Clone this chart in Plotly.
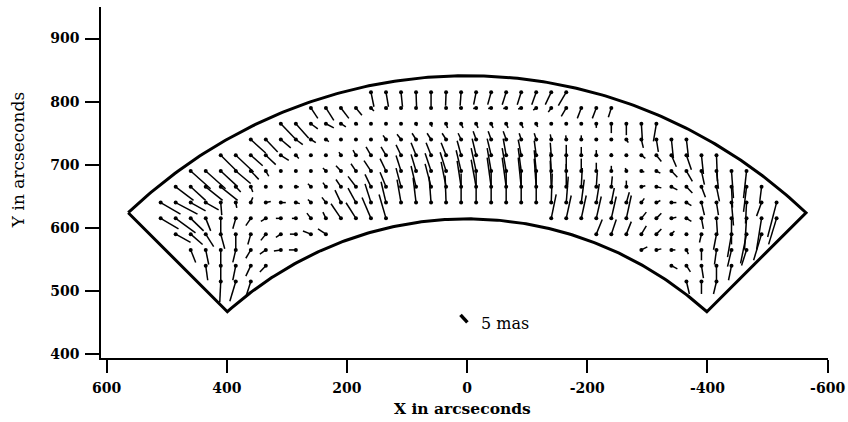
import numpy as np
import plotly.graph_objects as go

# distortion vectors on a 25" grid; u, v in mas (u along +X, v along +Y)
X_815 = [160, 135, 110, 85, 60, 35, 10, -15, -40, -65, -90, -115, -140, -165]
U_815 = [-1.5, -1.25, -0.75, -0.25, 0, 0.25, 0.5, 1.25, 1.75, 2, 2, 2.25, 3, 4]
V_815 = [-7, -7, -7, -7, -7, -6.5, -6.5, -6, -6, -6, -6, -6, -6, -6.5]

X_790 = [260, 235, 210, 185, 160, 135, 110, 85, 60, 35, 10, -15, -40, -65, -90, -115, -140, -165, -190, -215, -240]
U_790 = [-3.5, -4, -4, -3, -1.5, -0.75, -0.5, -0.25, 0, 0.25, 1, 1.5, 1.5, 1.5, 1.5, 1.5, 1.5, 2.5, 2, 2, 1.5]
V_790 = [-5, -6, -5, -3.5, -1.5, -0.75, -0.5, -0.25, -0.25, -0.25, 0, -0.25, -0.25, -0.25, -0.5, -1, -2, -4, -5, -5, -4.5]

X_765 = [310, 285, 260, 235, 210, 185, 160, 135, 110, 85, 60, 35, 10, -15, -40, -65, -90, -115, -140, -165, -190, -215, -240, -265, -290, -315]
U_765 = [-7, -6.5, -3.5, -4, -2.5, -1, -0.25, -0.25, -0.25, -0.5, -0.5, -0.75, -1, -1, -1, -1, -1, -0.75, -0.25, 0, 0, 0, 0, 0, -0.5, 1.5]
V_765 = [-7, -7, -2.5, -2, -1.5, -0.5, -0.25, -0.25, -0.25, -1, -1.5, -2, -2, -2, -2, -2, -2, -1.5, -0.5, -0.5, -0.5, -2, -4.5, -5.5, -8, -8.5]

X_740 = [360, 335, 310, 285, 260, 235, 210, 185, 160, 135, 110, 85, 60, 35, 10, -15, -40, -65, -90, -115, -140, -165, -190, -215, -240, -265, -290, -315, -340, -365]
U_740 = [-7.5, -6, -5, -3.5, -2.5, -1.5, -0.5, -0.25, 0, 1.5, 2, 2, 2, 2, 1.5, 1.5, 1.5, 1.5, 1, 1, 0.5, 0.25, 0, 0, 0, -1, -1, -1, -1, -1]
V_740 = [-6.5, -6, -4, -2.5, -1.5, -1, -0.5, -0.25, 0, 2, 2.5, 3, 3, 3, 3, 4, 4, 4, 3, 3, 2.5, 2, 2, -0.25, -0.25, -1.5, -4, -6, -9, -8.5]

X_715 = [410, 385, 360, 335, 310, 285, 260, 235, 210, 185, 160, 135, 110, 85, 60, 35, 10,
         -15, -40, -65, -90, -115, -140, -165, -190, -215, -240, -265, -290, -315, -340, -365, -390, -415]
U_715 = [-8.5, -9, -6, -5, -4, -1.5, 0, 0.5, 1, 1.5, 2.5, 2.5, 2.5, 2.5, 2.5, 2.5, 2,
         2, 2, 1.5, 1.5, 1, 0.5, 0, 0, 0, 0, 0, -2, -2.5, -2.5, -2.5, -1, -0.5]
V_715 = [-8, -8, -5, -4.5, -2.5, -1.5, 0, 0.5, 1.5, 2.5, 4, 4, 5, 6, 6, 6, 7,
         8, 8, 8, 7.5, 7, 6, 5, 4, 2.5, 1, 0, -1.5, -3, -5.5, -7, -9, -12.5]

X_690 = [460, 435, 410, 385, 360, 335, 310, 285, 260, 235, 210, 185, 160, 135, 110, 85, 60, 35, 10,
         -15, -40, -65, -90, -115, -140, -165, -190, -215, -240, -265, -290, -315, -340, -365, -390, -415, -440, -465]
U_690 = [-10, -10, -8.5, -7.5, -4, -1.5, 0, 0, 0, 1.5, 2.5, 2.5, 3.5, 3, 2.5, 2.5, 3, 3, 2.5,
         2.5, 2, 2, 1.5, 1, 0.5, 0, 0, 0, 0, 0.5, -1.5, -2, -3, -3, -1.5, -1, -1, 1.5]
V_690 = [-8.5, -8.5, -7.5, -6, -4, -2.5, 0, 0, 0, 1.5, 2.5, 3.5, 5, 6, 7.5, 8, 8.5, 9, 10,
         11, 11, 11, 11, 10, 9, 7.5, 6, 4, 2.5, 1.5, -0.5, -1, -3, -5, -6.5, -8.5, -13, -13]

X_665 = [485, 460, 435, 410, 385, 360, 335, 310, 285, 260, 235, 210, 185, 160, 135, 110, 85, 60, 35, 10,
         -15, -40, -65, -90, -115, -140, -165, -190, -215, -240, -265, -290, -315, -340, -365, -390, -415, -440, -465, -490]
U_665 = [-9, -7.5, -8.5, -8.5, -2.5, -1, 0, -0.5, -1.5, 1.5, 1.5, 2.5, 4, 3, 3, 2.5, 2.5, 3, 2.5, 2,
         2.5, 2, 2, 1.5, 1, 0.5, 0, -0.5, -0.5, -0.5, 0, -2, -2.5, -3, -3, -2, -1.5, -0.5, 1.5, 1]
V_665 = [-6.5, -6.5, -6.5, -6.5, -2.5, -2.5, 0, -0.5, 0, 1.5, 2, 3.5, 5, 6, 7, 9, 10, 11, 12, 12.5,
         13, 14, 14, 14, 13.5, 12.5, 11, 9, 7, 5, 3, 0.5, -0.5, -1.5, -3, -5, -7, -10, -12, -8]

X_640 = [510, 485, 460, 435, 410, 385, 360, 335, 310, 285, 260, 235, 210, 185, 160, 135, 110, 85, 60, 35, 10,
         -15, -40, -65, -90, -115, -140, -165, -190, -215, -240, -265, -290, -315, -340, -365, -390, -415, -440, -465, -490, -515]
U_640 = [-10, -11, -7.5, -6.5, -0.5, -0.5, -1, -2.5, -2.5, -2, 1.5, 2, 3, 4, 3, 2.5, 2, 1.5, 1, 0.5, 0,
         0, 0, 0, 0, 0, -0.5, -1, -1.5, -1.5, -1.5, -1.5, -1.5, -2, -2.5, -2.5, -1.5, -1, -1, 0.5, 2.5, 4.5]
V_640 = [-5.5, -5.5, -4, -3.5, -6, -2.5, 2.5, 0.5, 0, -0.5, 1.5, 2.5, 6, 7, 9, 10, 11, 12, 12.5, 13, 14,
         15, 15, 15, 15, 15, 14, 12.5, 11, 9, 7, 5, 2, 1, 0, -1.5, -6, -6, -11, -10, -6.5, -16.5]

X_615 = [510, 485, 460, 435, 410, 385, 360, 335, 310, 285, 260, 235, 210, 185, 160, 135,
         -140, -165, -190, -215, -240, -265, -290, -315, -340, -365, -390, -415, -440, -465, -490, -515]
U_615 = [-9, -10, -6.5, -2.5, 0, 1.5, 2.5, 2.5, 2.5, 2, 2, 1.5, 5, 5, 4.5, 3.5,
         -2.5, -2.5, -2.5, -2.5, -2.5, -2.5, -2.5, -2.5, -2.5, -2.5, -1, -0.5, 0, 1, 2.5, 4]
V_615 = [-5, -7, -6, -6, -7.5, -5, -3.5, -1.5, 0, 0, 2.5, 3, 7, 7.5, 10, 11.5,
         11.5, 11, 11, 10.5, 10.5, 11, 3, 2.5, 0.5, -1.5, -5, -7.5, -12.5, -15, -15, -12.5]

X_590 = [485, 460, 435, 410, 385, 360, 335, 310, 285, 260, 235,
         -215, -240, -265, -290, -315, -340, -365, -390, -415, -440, -465, -490]
U_590 = [-7.5, -6, -4, -2, 0, 1.5, 2.5, 2.5, 3, 4, 4,
         -3, -2.5, -2.5, -2.5, -2.5, -1.5, 0, 1, 1.5, 2, 3, 4]
V_590 = [-4, -5, -6, -7, -7.5, -5, -3, -1.5, 0, 1.5, 2.5,
         7, 7, 6, 4, 2.5, 1.5, 0, -4, -7.5, -11, -14, -12.5]

X_565 = [460, 435, 410, 385, 360, 335, 310, 285, -290, -315, -340, -365, -390, -415, -440, -465]
U_565 = [-2.5, -1.5, 0, 1.5, 2.5, 3, 3.5, 3.5, -3, -2.5, -2, -1, 0, 1, 2, 2.5]
V_565 = [-6, -7, -8, -6, -4, -2, -0.5, 0, 1.5, 0.5, 0, -2, -5, -7, -8, -7.5]

X_540 = [435, 410, 385, 360, 335, -340, -365, -390, -415, -440]
U_540 = [-1, 0, 1.5, 2.5, 3, -3, -2, -1, 0, 1.5]
V_540 = [-7, -8, -7, -5, -3, -1.5, -3, -6, -7, -7]

X_515 = [410, 385, 360, -365, -390, -415]
U_515 = [0.5, 3, 2.5, -1.5, 0, 1.5]
V_515 = [-10, -9.5, -7.5, -6, -6, -6]

ROWS = [
    (815, X_815, U_815, V_815), (790, X_790, U_790, V_790), (765, X_765, U_765, V_765),
    (740, X_740, U_740, V_740), (715, X_715, U_715, V_715), (690, X_690, U_690, V_690),
    (665, X_665, U_665, V_665), (640, X_640, U_640, V_640), (615, X_615, U_615, V_615),
    (590, X_590, U_590, V_590), (565, X_565, U_565, V_565), (540, X_540, U_540, V_540),
    (515, X_515, U_515, V_515),
]

MAS = 3.3  # plot arcsec per mas of distortion

# field of view corners (arcsec)
OUT_L, OUT_R = (564, 624), (-564, 624)
IN_L, IN_R = (399, 467), (-399, 467)

# 5 mas key
KEY_X, KEY_Y, KEY_LEN, KEY_ANG = 11, 462, 5, -134

X_TICKS = [600, 400, 200, 0, -200, -400, -600]
Y_TICKS = [400, 500, 600, 700, 800, 900]

seg_x, seg_y, dot_x, dot_y = [], [], [], []
for y0, xs, us, vs in ROWS:
    for x0, u, v in zip(xs, us, vs):
        seg_x += [x0, x0 + MAS * u, None]
        seg_y += [y0, y0 + MAS * v, None]
        dot_x.append(x0)
        dot_y.append(y0)


def arc(p0, p1, n=200):
    r = np.hypot(*p0)
    a = np.linspace(np.arctan2(p0[1], p0[0]), np.arctan2(p1[1], p1[0]), n)
    return list(r * np.cos(a)), list(r * np.sin(a))


ox, oy = arc(OUT_L, OUT_R)
ix, iy = arc(IN_R, IN_L)
fx = ox + ix + [ox[0]]
fy = oy + iy + [oy[0]]

fig = go.Figure()
fig.add_trace(go.Scatter(x=fx, y=fy, mode="lines", line=dict(color="black", width=3),
                         hoverinfo="skip"))
fig.add_trace(go.Scatter(x=seg_x, y=seg_y, mode="lines", line=dict(color="black", width=1.5),
                         hoverinfo="skip"))
fig.add_trace(go.Scatter(x=dot_x, y=dot_y, mode="markers", marker=dict(color="black", size=4)))

ka = np.radians(KEY_ANG)
fig.add_trace(go.Scatter(x=[KEY_X, KEY_X + MAS * KEY_LEN * np.cos(ka)],
                         y=[KEY_Y, KEY_Y + MAS * KEY_LEN * np.sin(ka)],
                         mode="lines", line=dict(color="black", width=3.5)))
fig.add_annotation(x=KEY_X - 30, y=449, text="%d mas" % KEY_LEN, showarrow=False,
                   xanchor="left", yanchor="middle",
                   font=dict(family="DejaVu Serif", size=16, color="black"))

axis_font = dict(family="DejaVu Serif", size=14, color="black", weight="bold")
fig.update_xaxes(range=[609.3, -600.6], tickvals=X_TICKS, ticktext=[str(t) for t in X_TICKS],
                 showline=True, linecolor="black", linewidth=1.5, ticks="outside",
                 ticklen=13, tickwidth=1.5, tickcolor="black", showgrid=False,
                 zeroline=False, tickfont=axis_font, automargin=False, ticklabelstandoff=3)
fig.update_yaxes(range=[393.7, 950], tickvals=Y_TICKS, ticktext=[str(t) for t in Y_TICKS],
                 showline=True, linecolor="black", linewidth=1.5, ticks="outside",
                 ticklen=14, tickwidth=1.5, tickcolor="black", showgrid=False,
                 zeroline=False, tickfont=axis_font, automargin=False, ticklabelstandoff=3)

fig.add_annotation(text="X in arcseconds", xref="paper", yref="paper", x=0.4966, y=-0.1425,
                   xanchor="center", yanchor="middle", showarrow=False,
                   font=dict(family="DejaVu Serif", size=15.5, color="black", weight="bold"))
fig.add_annotation(text="Y in arcseconds", xref="paper", yref="paper", x=-0.114, y=0.564,
                   xanchor="center", yanchor="middle", textangle=-90, showarrow=False,
                   font=dict(family="DejaVu Serif", size=17, color="black"))

fig.update_layout(width=848, height=422, margin=dict(l=101, r=20, t=7, b=64),
                  plot_bgcolor="white", paper_bgcolor="white", showlegend=False)

fig.write_html("out.html", config={"displayModeBar": False},
               post_script="document.body.style.margin='0';")
